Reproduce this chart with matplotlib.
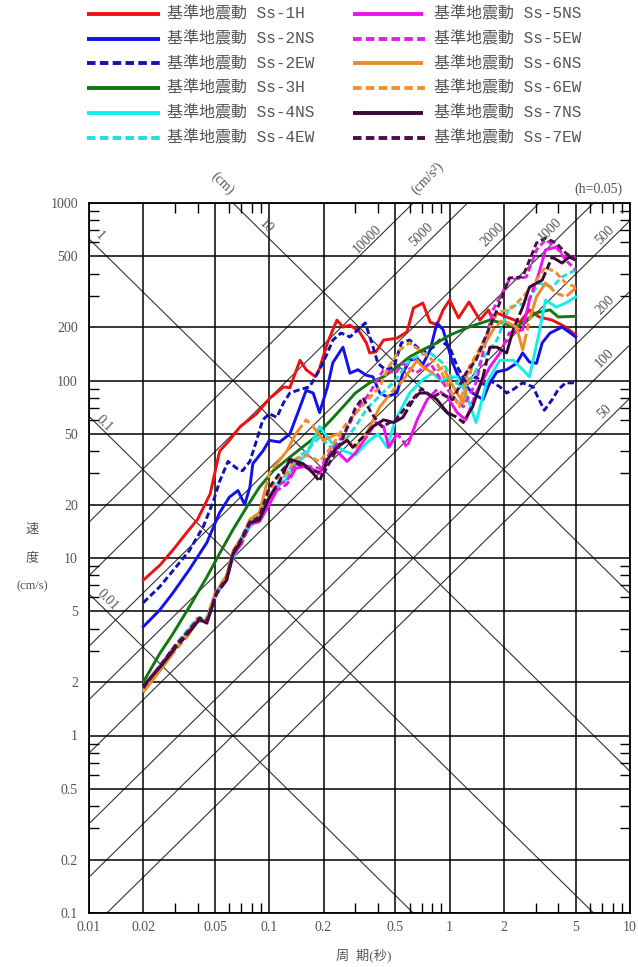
import numpy as np
import matplotlib
matplotlib.use("Agg")
import matplotlib.pyplot as plt
from matplotlib.ticker import FixedLocator, NullFormatter

# pseudo velocity response spectra, h=0.05: (period [s], velocity [cm/s])
ss1h = [(0.02, 7.5), (0.0247, 9.1), (0.029, 11), (0.035, 14), (0.04, 16.5), (0.047, 23), (0.053, 40),
        (0.06, 46), (0.069, 55), (0.085, 65), (0.1, 79), (0.12, 92), (0.13, 91), (0.148, 130), (0.16, 115),
        (0.18, 105), (0.19, 117), (0.21, 163), (0.237, 219), (0.256, 200), (0.28, 205), (0.316, 188),
        (0.345, 163), (0.36, 143), (0.39, 145), (0.43, 169), (0.51, 173), (0.58, 188), (0.63, 256),
        (0.71, 273), (0.78, 213), (0.85, 206), (0.92, 250), (1.0, 284), (1.12, 225), (1.28, 277),
        (1.47, 219), (1.64, 250), (1.74, 219), (1.83, 240), (2.07, 228), (2.45, 213), (2.77, 250),
        (3.13, 228), (3.7, 219), (4.4, 200), (5.0, 180)]
ss2ns = [(0.02, 4.1), (0.0247, 5.1), (0.029, 6.3), (0.036, 8.6), (0.045, 12.2), (0.053, 18), (0.06, 22),
         (0.067, 24), (0.073, 20), (0.078, 25), (0.081, 34), (0.092, 40), (0.1, 46), (0.114, 45), (0.13, 50),
         (0.148, 71), (0.16, 88), (0.175, 85), (0.19, 66), (0.21, 92), (0.225, 126), (0.256, 154),
         (0.28, 110), (0.31, 115), (0.345, 107), (0.375, 105), (0.41, 85), (0.45, 81), (0.51, 85),
         (0.55, 110), (0.6, 130), (0.66, 133), (0.71, 123), (0.78, 149), (0.85, 211), (0.92, 193),
         (1.04, 125), (1.12, 105), (1.19, 97), (1.34, 85), (1.53, 78), (1.67, 97), (1.83, 112),
         (2.07, 115), (2.35, 125), (2.54, 143), (2.77, 127), (3.03, 125), (3.26, 163), (3.6, 185),
         (4.2, 200), (5.0, 176)]
ss2ew = [(0.02, 5.6), (0.0247, 6.9), (0.029, 8.4), (0.036, 11), (0.043, 15), (0.049, 21), (0.053, 27),
         (0.059, 35), (0.066, 32), (0.071, 31), (0.078, 35), (0.085, 46), (0.092, 60), (0.1, 65),
         (0.11, 62), (0.12, 75), (0.13, 85), (0.148, 89), (0.167, 92), (0.19, 115), (0.21, 143),
         (0.225, 169), (0.25, 185), (0.28, 176), (0.31, 193), (0.34, 211), (0.37, 163), (0.4, 125),
         (0.44, 115), (0.49, 119), (0.54, 163), (0.6, 169), (0.66, 154), (0.71, 143), (0.81, 154),
         (0.88, 169), (1.0, 154), (1.1, 120), (1.25, 95), (1.4, 105), (1.55, 95), (1.67, 100), (1.9, 92),
         (2.07, 85), (2.25, 89), (2.54, 97), (2.9, 92), (3.13, 78), (3.35, 68), (3.7, 78), (4.0, 89),
         (4.4, 97), (5.0, 97)]
ss3h = [(0.02, 2.0), (0.0247, 2.9), (0.029, 3.7), (0.036, 5.3), (0.045, 7.8), (0.053, 10.6), (0.063, 14.5),
        (0.075, 19.4), (0.088, 25), (0.105, 31), (0.13, 37), (0.175, 47), (0.22, 60), (0.256, 71),
        (0.3, 85), (0.36, 97), (0.43, 105), (0.51, 119), (0.6, 136), (0.71, 149), (0.85, 163), (1.0, 180),
        (1.28, 200), (1.67, 219), (1.96, 211), (2.35, 200), (2.66, 219), (3.0, 240), (3.6, 250),
        (4.0, 228), (5.0, 230)]
ss4ns = [(0.02, 1.8), (0.025, 2.4), (0.03, 3.1), (0.035, 3.8), (0.04, 4.4), (0.045, 4.5), (0.05, 6),
         (0.058, 7.8), (0.063, 10), (0.07, 12.5), (0.078, 15), (0.088, 17), (0.1, 21), (0.11, 25),
         (0.125, 28), (0.14, 34), (0.16, 38), (0.19, 55), (0.22, 45), (0.26, 40), (0.3, 38), (0.35, 45),
         (0.4, 50), (0.45, 42), (0.5, 60), (0.55, 72), (0.6, 85), (0.7, 100), (0.8, 110), (0.9, 100),
         (1.0, 104), (1.1, 105), (1.23, 85), (1.4, 58), (1.6, 97), (1.9, 130), (2.25, 130), (2.54, 115),
         (2.77, 105), (3.13, 185), (3.4, 284), (3.9, 259), (4.4, 273), (5.0, 296)]
ss4ew = [(0.02, 1.85), (0.025, 2.5), (0.03, 3.2), (0.035, 3.9), (0.04, 4.6), (0.045, 4.6), (0.05, 6.3),
         (0.058, 8), (0.063, 10.5), (0.07, 13), (0.078, 16), (0.088, 18), (0.1, 22), (0.11, 26),
         (0.125, 30), (0.14, 36), (0.16, 40), (0.19, 48), (0.22, 42), (0.26, 45), (0.3, 55), (0.35, 70),
         (0.4, 80), (0.45, 90), (0.5, 100), (0.55, 115), (0.6, 130), (0.7, 140), (0.78, 143), (0.92, 125),
         (1.05, 100), (1.2, 90), (1.34, 105), (1.5, 130), (1.83, 169), (2.14, 259), (2.66, 273),
         (3.13, 354), (3.7, 336), (4.2, 383), (5.0, 420)]
ss5ns = [(0.02, 1.9), (0.025, 2.5), (0.03, 3.2), (0.035, 3.8), (0.04, 4.5), (0.045, 4.4), (0.05, 6.2),
         (0.058, 7.6), (0.063, 10.4), (0.07, 12), (0.078, 15.5), (0.088, 16), (0.1, 20), (0.11, 24),
         (0.125, 26), (0.14, 32), (0.16, 33), (0.19, 30), (0.225, 42), (0.27, 35), (0.3, 39), (0.345, 48),
         (0.39, 58), (0.43, 55), (0.46, 42), (0.51, 50), (0.55, 46), (0.58, 42), (0.66, 60), (0.75, 78),
         (0.85, 89), (0.97, 81), (1.1, 66), (1.23, 60), (1.4, 85), (1.67, 119), (1.9, 143), (2.14, 185),
         (2.54, 193), (2.77, 284), (3.13, 404), (3.4, 544), (3.9, 565), (4.4, 496), (5.0, 496)]
ss5ew = [(0.02, 1.85), (0.025, 2.45), (0.03, 3.1), (0.035, 3.7), (0.04, 4.5), (0.045, 4.3), (0.05, 6.2),
         (0.058, 7.5), (0.063, 10.5), (0.07, 12), (0.078, 15.8), (0.088, 16.5), (0.1, 21), (0.11, 26),
         (0.125, 27), (0.14, 34), (0.16, 33), (0.19, 32), (0.22, 40), (0.26, 50), (0.3, 66), (0.36, 85),
         (0.43, 115), (0.5, 110), (0.55, 125), (0.65, 110), (0.78, 125), (0.9, 100), (1.05, 80),
         (1.19, 71), (1.4, 97), (1.74, 250), (2.14, 368), (2.66, 383), (3.03, 544), (3.4, 620),
         (3.9, 565), (4.4, 477), (5.0, 420)]
ss6ns = [(0.02, 1.75), (0.025, 2.35), (0.03, 3.0), (0.035, 3.6), (0.04, 4.4), (0.045, 4.5), (0.05, 6.3),
         (0.058, 8), (0.063, 11), (0.07, 13), (0.078, 16.5), (0.088, 18), (0.1, 30), (0.11, 34),
         (0.125, 40), (0.14, 50), (0.16, 60), (0.175, 55), (0.2, 46), (0.237, 50), (0.27, 46), (0.3, 42),
         (0.345, 50), (0.41, 71), (0.49, 89), (0.55, 100), (0.66, 130), (0.71, 119), (0.81, 110),
         (0.92, 119), (1.0, 100), (1.1, 85), (1.19, 75), (1.34, 125), (1.53, 154), (1.74, 193),
         (1.96, 219), (2.35, 200), (2.54, 149), (2.77, 219), (3.03, 296), (3.4, 354), (3.9, 311),
         (4.4, 296), (5.0, 332)]
ss6ew = [(0.02, 1.8), (0.025, 2.4), (0.03, 3.1), (0.035, 3.7), (0.04, 4.5), (0.045, 4.4), (0.05, 6.3),
         (0.058, 7.7), (0.063, 10.7), (0.07, 12.5), (0.078, 16), (0.088, 17), (0.1, 24), (0.11, 28),
         (0.125, 30), (0.14, 36), (0.16, 38), (0.19, 35), (0.22, 42), (0.26, 55), (0.3, 65), (0.36, 80),
         (0.41, 92), (0.46, 120), (0.53, 149), (0.6, 163), (0.71, 143), (0.85, 125), (1.0, 90),
         (1.13, 71), (1.28, 119), (1.53, 163), (1.83, 240), (2.25, 259), (2.66, 311), (3.03, 368),
         (3.4, 436), (3.9, 404), (4.4, 354), (5.0, 336)]
ss7ns = [(0.02, 1.9), (0.025, 2.45), (0.03, 3.1), (0.035, 3.7), (0.041, 4.5), (0.045, 4.3), (0.051, 6.3),
         (0.058, 7.5), (0.063, 10.6), (0.069, 12.2), (0.078, 15.8), (0.088, 16.4), (0.1, 22), (0.114, 27),
         (0.13, 36), (0.154, 34), (0.175, 30), (0.19, 27), (0.21, 36), (0.237, 42), (0.27, 46), (0.29, 42),
         (0.33, 48), (0.375, 55), (0.43, 60), (0.49, 58), (0.55, 62), (0.63, 78), (0.68, 85), (0.75, 85),
         (0.85, 78), (0.97, 66), (1.1, 62), (1.19, 58), (1.34, 71), (1.53, 105), (1.67, 154), (1.83, 154),
         (2.07, 143), (2.25, 193), (2.54, 259), (2.77, 336), (3.26, 368), (3.7, 496), (4.2, 459),
         (4.6, 496), (5.0, 477)]
ss7ew = [(0.02, 1.85), (0.025, 2.5), (0.03, 3.2), (0.035, 3.8), (0.041, 4.6), (0.045, 4.4), (0.051, 6.4),
         (0.058, 7.7), (0.063, 10.8), (0.069, 12.5), (0.078, 16), (0.088, 17), (0.1, 25), (0.114, 30),
         (0.13, 35), (0.154, 33), (0.175, 31), (0.2, 30), (0.25, 45), (0.3, 70), (0.33, 80), (0.37, 65),
         (0.42, 55), (0.5, 60), (0.6, 75), (0.7, 90), (0.8, 80), (0.88, 85), (1.04, 78), (1.23, 110),
         (1.4, 130), (1.53, 163), (1.83, 250), (2.14, 378), (2.54, 383), (3.03, 595), (3.4, 635),
         (3.9, 595), (4.4, 523), (5.0, 477)]

names = ["基準地震動 Ss-1H", "基準地震動 Ss-2NS", "基準地震動 Ss-2EW", "基準地震動 Ss-3H",
         "基準地震動 Ss-4NS", "基準地震動 Ss-4EW", "基準地震動 Ss-5NS", "基準地震動 Ss-5EW",
         "基準地震動 Ss-6NS", "基準地震動 Ss-6EW", "基準地震動 Ss-7NS", "基準地震動 Ss-7EW"]
series = [ss1h, ss2ns, ss2ew, ss3h, ss4ns, ss4ew, ss5ns, ss5ew, ss6ns, ss6ew, ss7ns, ss7ew]
colors = ["#ee1111", "#1111ee", "#1111bb", "#117711", "#11eeee", "#22dddd",
          "#ee11ee", "#dd22dd", "#f08a24", "#f09030", "#3a0834", "#4a1048"]
solid = "-"
dashed = (0, (2.2, 1.1))
longshort = (0, (18, 1.2, 2.5, 1.2))
styles = [solid, solid, dashed, solid, solid, dashed, longshort, dashed, longshort, dashed, longshort, dashed]

# tripartite guide lines
disp_levels = [0.01, 0.1, 1, 10]                              # cm
acc_levels = [50, 100, 200, 500, 1000, 2000, 5000, 10000]     # cm/s^2

x_major = [0.01, 0.02, 0.05, 0.1, 0.2, 0.5, 1, 2, 5, 10]
y_major = [0.1, 0.2, 0.5, 1, 2, 5, 10, 20, 50, 100, 200, 500, 1000]
x_labels = ["0.01", "0.02", "0.05", "0.1", "0.2", "0.5", "1", "2", "5", "10"]
y_labels = ["0.1", "0.2", "0.5", "1", "2", "5", "10", "20", "50", "100", "200", "500", "1000"]

W, H = 638, 967
fig = plt.figure(figsize=(W / 100, H / 100), dpi=100)
ax = fig.add_axes([89 / W, 1 - 913 / H, 541 / W, 710 / H])
ax.set_xscale("log")
ax.set_yscale("log")
ax.set_xlim(0.01, 10)
ax.set_ylim(0.1, 1000)

tt = np.array([1e-3, 1e2])
for d in disp_levels:
    ax.plot(tt, 2 * np.pi * d / tt, color="#333333", lw=0.8, zorder=1)
for a in acc_levels:
    ax.plot(tt, a * tt / (2 * np.pi), color="#333333", lw=0.8, zorder=1)

for data, c, ls in zip(series, colors, styles):
    t, v = zip(*data)
    ax.plot(t, v, color=c, ls=ls, lw=2.1, zorder=3)

minor = [k * 10.0 ** e for e in range(-3, 4) for k in (3, 4, 6, 7, 8, 9)]
ax.xaxis.set_major_locator(FixedLocator(x_major))
ax.yaxis.set_major_locator(FixedLocator(y_major))
ax.xaxis.set_minor_locator(FixedLocator(minor))
ax.yaxis.set_minor_locator(FixedLocator(minor))
ax.xaxis.set_minor_formatter(NullFormatter())
ax.yaxis.set_minor_formatter(NullFormatter())
ax.set_xticklabels(x_labels)
ax.set_yticklabels(y_labels)
ax.grid(which="major", color="black", lw=1.1, zorder=2)
ax.tick_params(which="major", length=0, labelsize=10, labelcolor="#555555")
ax.tick_params(axis="x", which="major", pad=6)
ax.tick_params(axis="y", which="major", pad=8)
ax.tick_params(which="minor", direction="in", length=7, width=1.0,
               top=True, right=True, color="black")
for lab in ax.get_xticklabels() + ax.get_yticklabels():
    lab.set_fontfamily("Liberation Serif")
for sp in ax.spines.values():
    sp.set_linewidth(1.3)

# overlay in pixel units for legend and annotations
ov = fig.add_axes([0, 0, 1, 1])
ov.set_xlim(0, W)
ov.set_ylim(H, 0)
ov.axis("off")

jp = ["Liberation Mono", "Noto Sans CJK JP"]
for i, (name, c, ls) in enumerate(zip(names, colors, styles)):
    col, row = divmod(i, 6)
    y = 14 + 24.7 * row
    x0, x1, xt = (87, 160, 167) if col == 0 else (353, 425, 434)
    ov.plot([x0, x1], [y, y], color=c, ls=ls, lw=2.8, solid_capstyle="butt")
    ov.text(xt, y, name, family=jp, fontsize=11.5, color="#555555", va="center", ha="left")

serif = dict(family="Liberation Serif", color="#555555", ha="center", va="center",
             rotation_mode="anchor")
ov.text(32, 530, "速", family=jp, fontsize=9.5, color="#555555", ha="center", va="center")
ov.text(32, 558, "度", family=jp, fontsize=9.5, color="#555555", ha="center", va="center")
ov.text(32, 586, "(cm/s)", fontsize=9, **serif)
ov.text(364, 955, "周  期(秒)", family=["Liberation Serif", "Noto Sans CJK JP"], fontsize=9.5,
        color="#555555", ha="center", va="center")
ov.text(598, 189, "(h=0.05)", fontsize=10, **serif)
ov.text(222, 183, "(cm)", fontsize=10, rotation=-45, **serif)
ov.text(428, 178, "(cm/s²)", fontsize=10, rotation=45, **serif)

disp_pos = {"1": (100, 236), "10": (266, 226), "0.1": (104, 424), "0.01": (108, 600)}
for txt, (px, py) in disp_pos.items():
    ov.text(px, py, txt, fontsize=10, rotation=-45, **serif)
acc_pos = {"10000": (367, 239), "5000": (421, 235), "2000": (493, 235), "1000": (550, 230),
           "500": (605, 235), "200": (605, 305), "100": (605, 358), "50": (605, 412)}
for txt, (px, py) in acc_pos.items():
    ov.text(px, py, txt, fontsize=10, rotation=45, **serif)

fig.savefig("out.png", dpi=100, facecolor="white")
